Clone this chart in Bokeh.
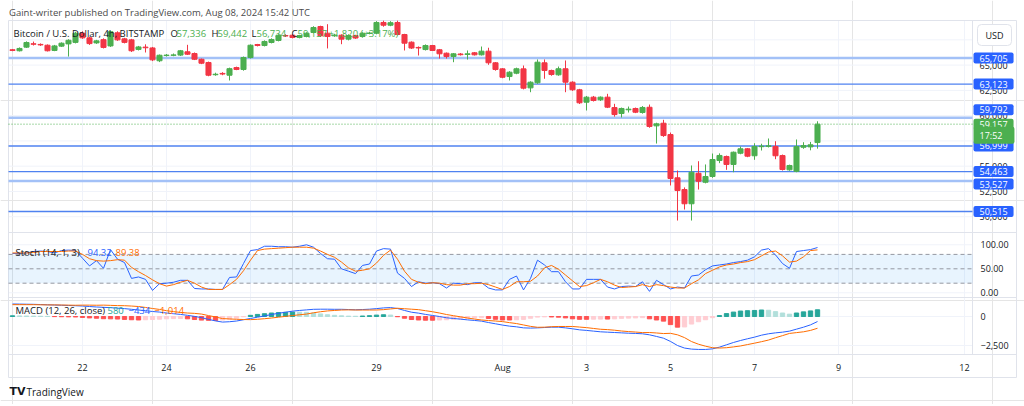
from bokeh.plotting import figure
from bokeh.models import Range1d, Label
from bokeh.core.properties import value
from bokeh.embed import file_html
from bokeh.resources import INLINE

# ---------------- data (4h candles, Jul 20 08:00 -> Aug 8 12:00 UTC) ----------------
opens = [66520, 66420, 66780, 67110, 67050, 66970, 66450, 66880, 67100, 67250,
         68160, 67700, 67200, 67520, 66900, 68200, 67600, 67500, 66550, 66780,
         66700, 65430, 65950, 65970, 65990, 66320, 66150, 65580, 65260, 64050,
         64180, 64000, 64760, 64570, 65750, 67040, 66940, 67240, 67440, 67930,
         67960, 67730, 67830, 68230, 68820, 68160, 67900, 67960, 67570, 67930,
         67830, 68130, 68150, 69220, 68950, 69220, 68030, 67270, 66750, 66540,
         66940, 66520, 66180, 65850, 66100, 66050, 66220, 66020, 66380, 65230,
         64630, 63870, 64200, 64630, 62750, 63250, 65230, 64470, 64040, 64640,
         63310, 62560, 61330, 61830, 61570, 61830, 60800, 60210, 60580, 60710,
         60310, 60830, 58990, 59250, 58130, 53850, 52690, 51280, 54300, 53410,
         53980, 55560, 55960, 55170, 56280, 56720, 56030, 56930, 56960, 56950,
         56050, 54640, 54490, 56870, 56910, 57336]
highs = [66600, 66750, 67350, 67330, 67150, 67050, 67000, 67250, 67560, 68300,
         68350, 67800, 67500, 67650, 68400, 68350, 67700, 67600, 66900, 67060,
         66800, 66050, 66100, 66150, 66500, 67010, 66250, 65650, 65350, 64250,
         64300, 64750, 64850, 65850, 67050, 67100, 67450, 67650, 68050, 68050,
         68050, 68000, 68250, 68850, 68900, 69050, 68100, 68050, 68050, 68000,
         68250, 68300, 69350, 69400, 69350, 69400, 68100, 67350, 66850, 67050,
         67000, 66600, 66250, 66200, 66200, 66450, 66300, 66840, 66720, 65300,
         64700, 64400, 64750, 64960, 63400, 65560, 65560, 64550, 64860, 65460,
         63400, 62650, 61950, 61950, 61900, 62160, 61170, 60800, 60900, 60800,
         60950, 61100, 59300, 59590, 58330, 54570, 52900, 55070, 55490, 55170,
         56250, 56270, 56050, 56450, 56950, 56800, 57270, 57220, 57740, 57470,
         56150, 55150, 57640, 57370, 57400, 59442]
lows = [66380, 66350, 66700, 66940, 66900, 66350, 66380, 66800, 65850, 67150,
        67600, 67000, 67100, 66650, 66800, 67400, 67150, 66300, 66450, 66250,
        65400, 65300, 65850, 65880, 65900, 66000, 65500, 65100, 63900, 63950,
        64000, 63480, 64500, 64450, 65650, 66850, 66850, 67150, 67350, 67800,
        67650, 67650, 67750, 68150, 67800, 66650, 67800, 67070, 67450, 67600,
        67750, 68050, 68050, 68800, 68850, 67950, 66450, 66600, 65950, 66450,
        66400, 65650, 65650, 65290, 65950, 65550, 65950, 65950, 65030, 64450,
        63700, 63480, 64100, 62600, 62320, 63150, 63650, 63950, 63950, 62320,
        62450, 61150, 60510, 61400, 61450, 60750, 59900, 59820, 60310, 60250,
        60200, 58800, 57240, 57900, 53090, 49620, 50710, 49620, 52690, 53300,
        53850, 55300, 54640, 54400, 56180, 55890, 55630, 56550, 56850, 55690,
        54570, 54550, 54400, 56720, 56570, 56734]
closes = [66450, 66650, 67240, 67070, 67000, 66420, 66900, 67170, 67460, 68160,
          67700, 67130, 67400, 66750, 68300, 67500, 67250, 66420, 66800, 66720,
          65520, 65980, 65990, 66010, 66420, 66080, 65580, 65190, 64000, 64100,
          64120, 64650, 64570, 65750, 66970, 66940, 67340, 67540, 67960, 67880,
          67730, 67930, 68160, 68720, 67900, 67830, 67980, 67570, 67930, 67680,
          68160, 68180, 69220, 68950, 69200, 68030, 67170, 66690, 66700, 66940,
          66450, 66120, 65850, 66120, 66030, 66120, 66020, 66380, 65230, 64570,
          63800, 64300, 64640, 62720, 63310, 65290, 64470, 64070, 64640, 63310,
          62560, 61270, 61830, 61500, 61830, 60840, 60110, 60710, 60640, 60340,
          60810, 58930, 59190, 58030, 53780, 52590, 51280, 54400, 53510, 53980,
          55660, 56060, 55170, 56380, 56720, 55990, 56950, 56980, 57010, 56030,
          54670, 55070, 56950, 57040, 57110, 59157]

stoch_k = [82, 82, 83, 86, 87, 86, 83, 88, 89, 88,
           72, 56, 67, 51, 90, 70, 63, 30, 33, 28,
           5, 19, 20, 22, 26, 26, 9, 8, 8, 7,
           7, 32, 33, 61, 88, 90, 97, 97, 96, 96,
           95, 97, 100, 95, 82, 71, 70, 50, 45, 40,
           57, 60, 87, 92, 91, 41, 30, 13, 23, 20,
           21, 19, 10, 20, 19, 17, 21, 21, 10, 6,
           6, 28, 35, 6, 30, 68, 58, 44, 44, 23,
           8, 8, 28, 28, 28, 12, 8, 13, 14, 13,
           23, 3, 26, 17, 8, 12, 10, 35, 37, 48,
           56, 58, 60, 63, 65, 68, 75, 89, 92, 79,
           61, 51, 86, 88, 90, 94.32]
stoch_d = [83, 83, 83, 84, 86, 86, 86, 86, 87, 87,
           80, 71, 67, 66, 67, 69, 68, 53, 44, 36,
           27, 19, 14, 17, 22, 26, 20, 12, 7, 7,
           7, 17, 28, 46, 68, 88, 91, 92, 93, 94,
           95, 95, 95, 93, 87, 80, 74, 64, 52, 45,
           47, 50, 62, 78, 89, 70, 45, 28, 22, 19,
           21, 20, 17, 16, 16, 19, 19, 20, 17, 12,
           7, 13, 23, 23, 24, 35, 52, 57, 49, 37,
           25, 13, 15, 21, 28, 23, 16, 11, 12, 13,
           17, 13, 17, 15, 12, 10, 10, 19, 27, 40,
           47, 54, 58, 60, 63, 65, 69, 77, 85, 87,
           77, 64, 66, 75, 88, 89.38]

macd = [1080, 1070, 1060, 1050, 1030, 1010, 990, 970, 950, 930,
        900, 860, 820, 790, 760, 720, 680, 620, 560, 500,
        430, 380, 300, 240, 180, 100, 10, -100, -250, -380,
        -480, -450, -390, -280, -170, -60, 50, 170, 280, 370,
        460, 520, 570, 620, 630, 630, 620, 620, 600, 580,
        600, 630, 680, 740, 770, 690, 520, 370, 290, 180,
        90, 0, -110, -170, -230, -290, -340, -400, -520, -630,
        -740, -830, -890, -980, -1000, -980, -950, -920, -920, -980,
        -1060, -1150, -1200, -1260, -1320, -1350, -1380, -1410, -1440, -1460,
        -1490, -1580, -1720, -1870, -2150, -2500, -2720, -2810, -2840, -2840,
        -2790, -2640, -2440, -2240, -2070, -1920, -1780, -1610, -1490, -1410,
        -1350, -1260, -1090, -920, -720, -434]
signal = [1020, 1020, 1020, 1020, 1010, 1000, 1000, 990, 980, 970,
          980, 980, 970, 980, 960, 940, 930, 900, 860, 780,
          690, 610, 500, 420, 350, 300, 270, 210, 80, -40,
          -180, -210, -240, -260, -270, -240, -190, -130, -60, 10,
          80, 150, 210, 320, 410, 480, 520, 560, 570, 560,
          560, 560, 560, 590, 650, 710, 670, 630, 590, 500,
          410, 300, 170, 70, -30, -130, -220, -300, -350, -390,
          -440, -530, -610, -730, -850, -930, -920, -880, -860, -860,
          -860, -910, -960, -1030, -1100, -1130, -1180, -1250, -1300, -1340,
          -1390, -1380, -1420, -1470, -1450, -1580, -1820, -2160, -2390, -2560,
          -2690, -2720, -2690, -2620, -2540, -2420, -2300, -2170, -2030, -1830,
          -1650, -1460, -1390, -1320, -1200, -1014]
hist = [60, 50, 40, 30, 20, 10, -10, -20, -30, -40,
        -80, -120, -150, -190, -200, -220, -250, -280, -300, -280,
        -260, -230, -200, -180, -170, -200, -260, -310, -330, -340,
        -300, -240, -150, -20, 100, 180, 240, 300, 340, 360,
        380, 370, 360, 300, 220, 150, 100, 60, 30, 20,
        40, 70, 120, 150, 120, -20, -150, -260, -300, -320,
        -320, -300, -280, -240, -200, -160, -120, -100, -170, -240,
        -300, -300, -280, -250, -150, -50, -30, -40, -60, -120,
        -200, -240, -240, -230, -220, -220, -200, -160, -140, -120,
        -100, -200, -300, -400, -700, -920, -900, -650, -450, -280,
        -100, 80, 250, 380, 470, 500, 520, 560, 540, 420,
        300, 200, 300, 400, 480, 580]

# candle index of each date tick (index 10 = Jul 22 00:00)
tick_idx = [10, 22, 34, 52, 70, 82, 94, 106, 118, 136]
tick_labels = ["22", "24", "26", "29", "Aug", "3", "5", "7", "9", "12"]
price_ticks = [50000, 52500, 55000, 57500, 60000, 62500, 65000, 67500]
price_tick_labels = ["50,000", "52,500", "55,000", "57,500", "60,000", "62,500", "65,000", "67,500"]
stoch_ticks = [0, 50, 100]
stoch_tick_labels = ["0.00", "50.00", "100.00"]
macd_ticks = [0, -2500]
macd_tick_labels = ["0", "\u22122,500"]
levels = [65705, 63123, 59792, 56999, 54463, 53527, 50515]
level_labels = ["65,705", "63,123", "59,792", "56,999", "54,463", "53,527", "50,515"]
last_price = 59157

# ---------------- styling / layout ----------------
FONT = "Open Sans"
TXT = "#131722"
GRID = "#F0F3FA"
BORDER = "#E0E3EB"
UP, DOWN = "#4CAF50", "#F23645"
BLUE, ORANGE = "#2962FF", "#FF6D00"
LVL_THIN, LVL_THICK = "#4F82F0", "#A3C1F7"
level_thick = [True, False, True, False, False, True, False]
level_shift = [0, 0, 8, 0, 0, -3, 0]

W, H = 1024, 404
n = len(closes)
idx = list(range(n))


def xi(xpage):
    """page x (px) -> candle-index coordinate"""
    return (xpage - 12) / 7.0


def yrange(ya, va, yb, vb):
    """linear value range whose page positions are ya->va and yb->vb"""
    s = (vb - va) / (yb - ya)
    return Range1d(start=va + (H - ya) * s, end=va + (0 - ya) * s)


XL, XR = xi(8), xi(972)          # plot area left / price-scale edge
XS = xi(1016)                    # outer right edge

p = figure(frame_width=W, frame_height=H, x_range=Range1d(xi(0), xi(W)),
           y_range=Range1d(H, 0), output_backend="svg", toolbar_location=None,
           x_axis_location=None, y_axis_location=None,
           min_border_left=0, min_border_right=0, min_border_top=0, min_border_bottom=0)
p.outline_line_color = None
p.background_fill_color = "white"
p.border_fill_color = "white"
p.extra_y_ranges = {
    "price": yrange(57.5, 65705, 211, 50515),
    "stoch": yrange(292.3, 0, 244.3, 100),
    "macd": yrange(316, 0, 345, -2500),
}

# grid lines
p.segment(x0=tick_idx, x1=tick_idx, y0=20, y1=354, color=GRID, line_width=1)
p.segment(x0=XL, x1=XR, y0=price_ticks, y1=price_ticks, color=GRID, y_range_name="price")
p.segment(x0=XL, x1=XR, y0=[0, 100], y1=[0, 100], color=GRID, y_range_name="stoch")
p.segment(x0=XL, x1=XR, y0=macd_ticks, y1=macd_ticks, color=GRID, y_range_name="macd")

# pane frame / separators
p.quad(left=XL, right=XS, top=20, bottom=377, fill_color=None, line_color=BORDER, line_width=1)
p.segment(x0=XL, x1=XS, y0=[232, 297, 354], y1=[232, 297, 354], color=BORDER, line_width=1)
p.segment(x0=XR, x1=XR, y0=20, y1=354, color=BORDER, line_width=1)

# ---------------- price pane ----------------
thick_lv = [lv for lv, t in zip(levels, level_thick) if t]
thin_lv = [lv for lv, t in zip(levels, level_thick) if not t]
p.segment(x0=XL, x1=XR, y0=thick_lv, y1=thick_lv, color=LVL_THICK, line_width=2.5, y_range_name="price")
p.segment(x0=XL, x1=XR, y0=thin_lv, y1=thin_lv, color=LVL_THIN, line_width=1.3, y_range_name="price")
p.segment(x0=XL, x1=XR, y0=last_price, y1=last_price, color=UP, line_width=1,
          line_dash="1 2", y_range_name="price")

cols = [UP if c >= o else DOWN for o, c in zip(opens, closes)]
tops = [max(o, c) for o, c in zip(opens, closes)]
bots = [min(o, c) for o, c in zip(opens, closes)]
p.segment(x0=idx, y0=lows, x1=idx, y1=highs, color=cols, line_width=1, y_range_name="price")
p.vbar(x=idx, width=0.72, top=tops, bottom=bots, fill_color=cols, line_color=cols,
       line_width=1, y_range_name="price")

# price scale tick labels
p.text(x=xi(979), y=price_ticks, text=price_tick_labels, text_font=value(FONT),
       text_font_size=value("9px"), text_color=TXT, text_align="left",
       text_baseline="middle", y_range_name="price")

# ---------------- stochastic pane ----------------
p.quad(left=XL, right=XR, bottom=20, top=80, fill_color="#2196F3", fill_alpha=0.1,
       line_color=None, y_range_name="stoch")
p.segment(x0=XL, x1=XR, y0=[80, 50, 20], y1=[80, 50, 20], color="#9598A1", line_width=1,
          line_dash="4 3", y_range_name="stoch")
p.line(idx, stoch_k, color=BLUE, line_width=1, y_range_name="stoch")
p.line(idx, stoch_d, color=ORANGE, line_width=1, y_range_name="stoch")
p.text(x=xi(980), y=stoch_ticks, text=stoch_tick_labels, text_font=value(FONT),
       text_font_size=value("9px"), text_color=TXT, text_align="left",
       text_baseline="middle", y_range_name="stoch")

# ---------------- MACD pane ----------------
hcols = []
for i, h in enumerate(hist):
    prev = hist[i - 1] if i > 0 else h
    if h >= 0:
        hcols.append("#26A69A" if h >= prev else "#B2DFDB")
    else:
        hcols.append("#FFCDD2" if h > prev else "#FF5252")
p.vbar(x=idx, width=0.62, top=hist, bottom=0, fill_color=hcols, line_color=hcols,
       y_range_name="macd")
p.line(idx, macd, color=BLUE, line_width=1, y_range_name="macd")
p.line(idx, signal, color=ORANGE, line_width=1, y_range_name="macd")
p.text(x=xi(980), y=macd_ticks, text=macd_tick_labels, text_font=value(FONT),
       text_font_size=value("9px"), text_color=TXT, text_align="left",
       text_baseline="middle", y_range_name="macd")

# time axis labels
p.text(x=tick_idx, y=367, text=tick_labels, text_font=value(FONT),
       text_font_size=value("9px"), text_color=TXT, text_align="center",
       text_baseline="middle")


# ---------------- labels ----------------
def lab(x, y, text, color=TXT, size="9.5px", bg=None, yoff=0, pad=None,
        border=None, radius=0, style="normal", font=FONT, rname="default"):
    kw = dict(x=x, y=y, text=text, text_color=color, text_font=font, text_font_size=size,
              text_align="left", text_baseline="middle", text_font_style=style,
              y_offset=yoff, y_range_name=rname)
    if bg:
        kw.update(background_fill_color=bg, background_fill_alpha=1.0)
    if pad:
        kw.update(padding=pad)
    if border:
        kw.update(border_line_color=border)
    if radius:
        kw.update(border_radius=radius)
    p.add_layout(Label(**kw))


lab(xi(8.5), 12, "Gaint-writer published on TradingView.com, Aug 08, 2024 15:42 UTC",
    color="#4A4A4A", size="9.5px")
lab(xi(13), 33, "Bitcoin / U.S. Dollar, 4h, BITSTAMP")
legend_items = [(170, "O", TXT), (176, "57,336", UP), (211, "H", TXT), (217, "59,442", UP),
                (251, "L", TXT), (256, "56,734", UP), (291, "C", TXT), (297, "59,157", UP),
                (328, "+1,820 (+3.17%)", UP)]
for xp, t, c in legend_items:
    lab(xi(xp), 33, t, color=c)

lab(xi(15), 251.7, "Stoch (14, 1, 3)")
lab(xi(87), 251.7, "94.32", color=BLUE)
lab(xi(115), 251.7, "89.38", color=ORANGE)

lab(xi(15), 310, "MACD (12, 26, close)")
lab(xi(107), 310, "580", color="#26A69A")
lab(xi(128), 310, "\u2212434", color=BLUE)
lab(xi(154), 310, "\u22121,014", color=ORANGE)

pad = dict(left=6, right=6, top=2, bottom=2)
for lv, txt, sh in zip(levels, level_labels, level_shift):
    lab(xi(973), lv, txt, color="white", size="9px", bg=BLUE, yoff=sh, pad=pad,
        radius=2, rname="price")
lab(xi(973), last_price, "59,157", color="white", size="9px", bg=UP, pad=pad, radius=2,
    rname="price")
lab(xi(973), last_price, "17:52", color="white", size="9px", bg=UP, yoff=-11,
    pad=dict(left=6, right=12, top=2, bottom=2), radius=2, rname="price")
lab(xi(977), 34.5, "USD", size="9px", bg="white", border=BORDER,
    pad=dict(left=8, right=8, top=4, bottom=4), radius=4)

# footer logo
lab(xi(9), 391, "TV", size="11px", style="bold", font="DejaVu Sans")
lab(xi(26), 391, "TradingView", size="10px")

open("out.html", "w").write(file_html(p, INLINE))
